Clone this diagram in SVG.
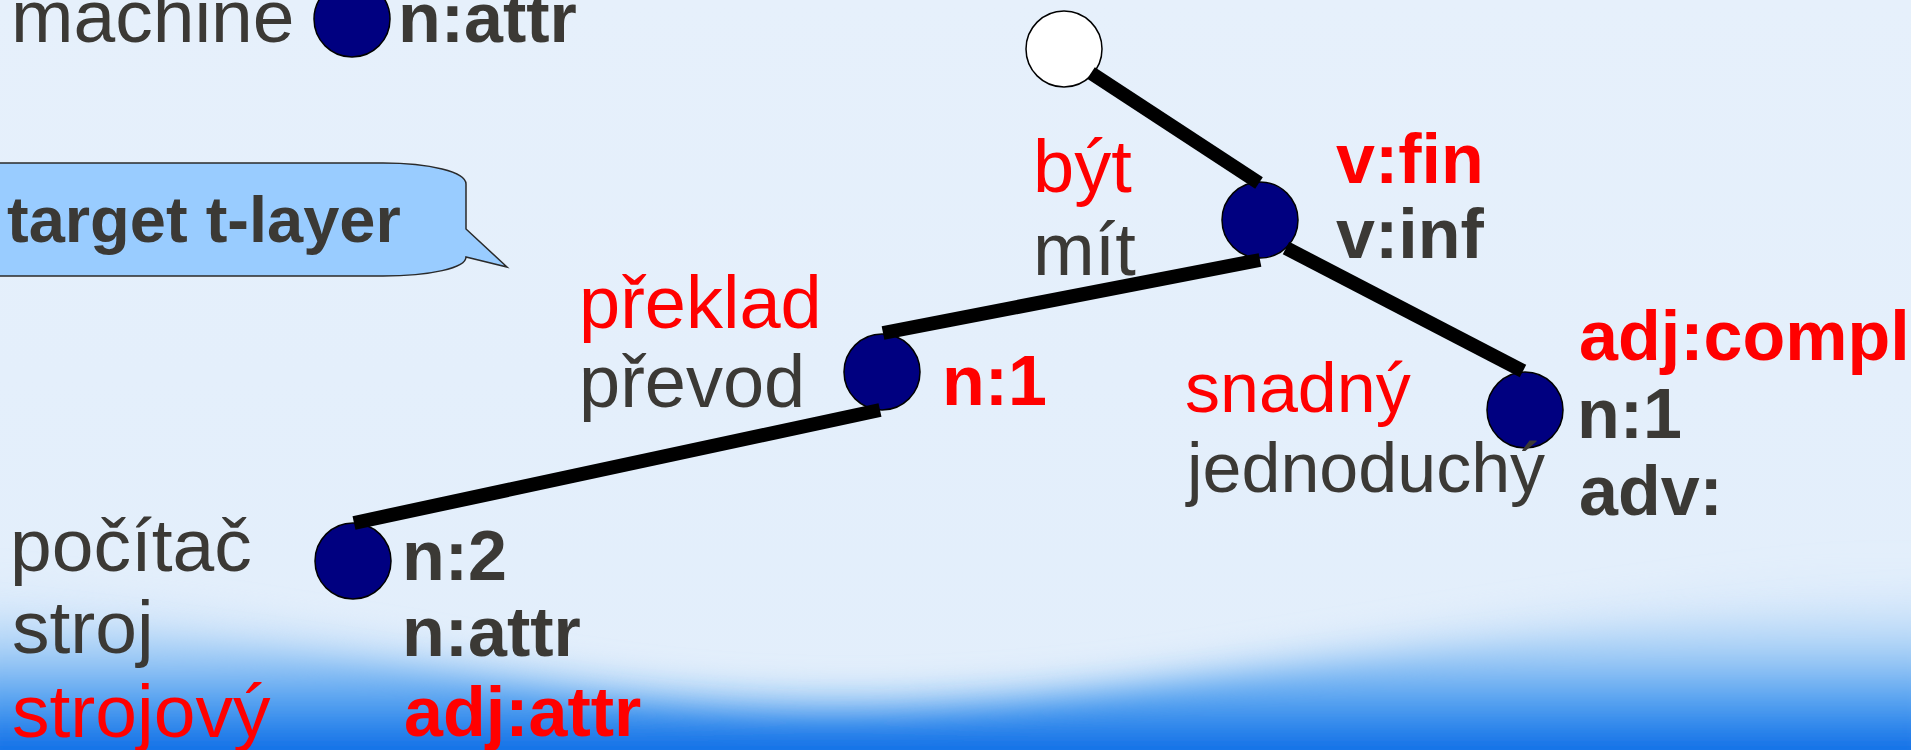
<svg xmlns="http://www.w3.org/2000/svg" width="1911" height="750" viewBox="0 0 1911 750">
  <defs>
    <linearGradient id="bg" x1="0" y1="0" x2="0" y2="1">
      <stop offset="0" stop-color="#e6f0fb"/>
      <stop offset="1" stop-color="#e2eefb"/>
    </linearGradient>
    <linearGradient id="wave" gradientUnits="userSpaceOnUse" x1="0" y1="600" x2="0" y2="750">
      <stop offset="0" stop-color="#cfe4fa" stop-opacity="0.2"/>
      <stop offset="0.35" stop-color="#a6cff6"/>
      <stop offset="0.7" stop-color="#4d9ef0"/>
      <stop offset="1" stop-color="#0a6de6"/>
    </linearGradient>
    <linearGradient id="haze" gradientUnits="userSpaceOnUse" x1="0" y1="560" x2="0" y2="700">
      <stop offset="0" stop-color="#cfe4fa" stop-opacity="0"/>
      <stop offset="1" stop-color="#9fcbf5" stop-opacity="0.8"/>
    </linearGradient>
    <filter id="soft" x="-5%" y="-30%" width="110%" height="160%">
      <feGaussianBlur stdDeviation="14"/>
    </filter>
    <style>
      .reg { font-family: "Liberation Sans", Arial, sans-serif; font-size: 74px; }
      .bold { font-family: "Liberation Sans", Arial, sans-serif; font-size: 70px; font-weight: bold; }
      .gray { fill: #3b3935; }
      .red { fill: #ff0000; }
      .node { fill: #000080; stroke: #000000; stroke-width: 1.5; }
      .root { fill: #ffffff; stroke: #000000; stroke-width: 1.5; }
      .edge { stroke: #000000; stroke-width: 14; stroke-linecap: butt; fill: none; }
    </style>
  </defs>

  <!-- background -->
  <rect x="0" y="0" width="1911" height="750" fill="url(#bg)"/>
  <path d="M -30 570 C 200 600, 400 640, 600 670 C 800 700, 1000 690, 1200 660 C 1450 620, 1700 580, 1940 550 L 1940 780 L -30 780 Z" fill="url(#haze)" filter="url(#soft)"/>
  <path d="M -30 610 C 150 630, 350 660, 550 690 C 750 720, 900 718, 1100 695 C 1350 665, 1600 625, 1940 595 L 1940 780 L -30 780 Z" fill="url(#wave)" filter="url(#soft)"/>

  <!-- callout -->
  <g id="callout">
    <path d="M -10 163 L 383 163 C 430 163, 466 172, 466 184 L 466 229 L 507 267 L 466 257 C 466 268, 430 276, 383 276 L -10 276 Z" fill="#99ccff" stroke="#2a2a2a" stroke-width="1.5"/>
    <text x="7" y="242" class="bold gray" style="font-size:65px">target t-layer</text>
  </g>

  <g id="node-machine">
    <circle cx="352" cy="19" r="38" class="node"/>
    <text x="11" y="42" class="reg gray" style="font-size:75px">machine</text>
    <text x="398" y="42" class="bold gray">n:attr</text>
  </g>

  <g id="node-root">
    <circle cx="1064" cy="49" r="38" class="root"/>
  </g>

  <g id="node-byt">
    <circle cx="1260" cy="220" r="38" class="node"/>
    <text x="1033" y="192" class="reg red">být</text>
    <text x="1033" y="275" class="reg gray">mít</text>
    <text x="1336" y="183" class="bold red">v:fin</text>
    <text x="1336" y="258" class="bold gray">v:inf</text>
  </g>

  <g id="node-preklad">
    <circle cx="882" cy="372" r="38" class="node"/>
    <text x="579" y="328" class="reg red">překlad</text>
    <text x="579" y="407" class="reg gray">převod</text>
    <text x="942" y="405" class="bold red">n:1</text>
  </g>

  <g id="node-snadny">
    <circle cx="1525" cy="410" r="38" class="node"/>
    <text x="1185" y="412" class="reg red" style="font-size:70px">snadný</text>
    <text x="1187" y="492" class="reg gray" style="font-size:70px">jednoduchý</text>
    <text x="1579" y="360" class="bold red">adj:compl</text>
    <text x="1577" y="438" class="bold gray">n:1</text>
    <text x="1579" y="515" class="bold gray">adv:</text>
  </g>

  <g id="node-pocitac">
    <circle cx="353" cy="561" r="38" class="node"/>
    <text x="10" y="571" class="reg gray" style="font-size:75px">počítač</text>
    <text x="12" y="653" class="reg gray" style="font-size:75px">stroj</text>
    <text x="12" y="737" class="reg red" style="font-size:75px">strojový</text>
    <text x="402" y="580" class="bold gray">n:2</text>
    <text x="402" y="656" class="bold gray">n:attr</text>
    <text x="404" y="736" class="bold red">adj:attr</text>
  </g>

  <g id="connectors">
    <line x1="1091" y1="73" x2="1259" y2="183" class="edge"/>
    <line x1="1260" y1="260" x2="883" y2="333" class="edge"/>
    <line x1="880" y1="410" x2="354" y2="523" class="edge"/>
    <line x1="1286" y1="248" x2="1523" y2="371" class="edge"/>
  </g>
</svg>
